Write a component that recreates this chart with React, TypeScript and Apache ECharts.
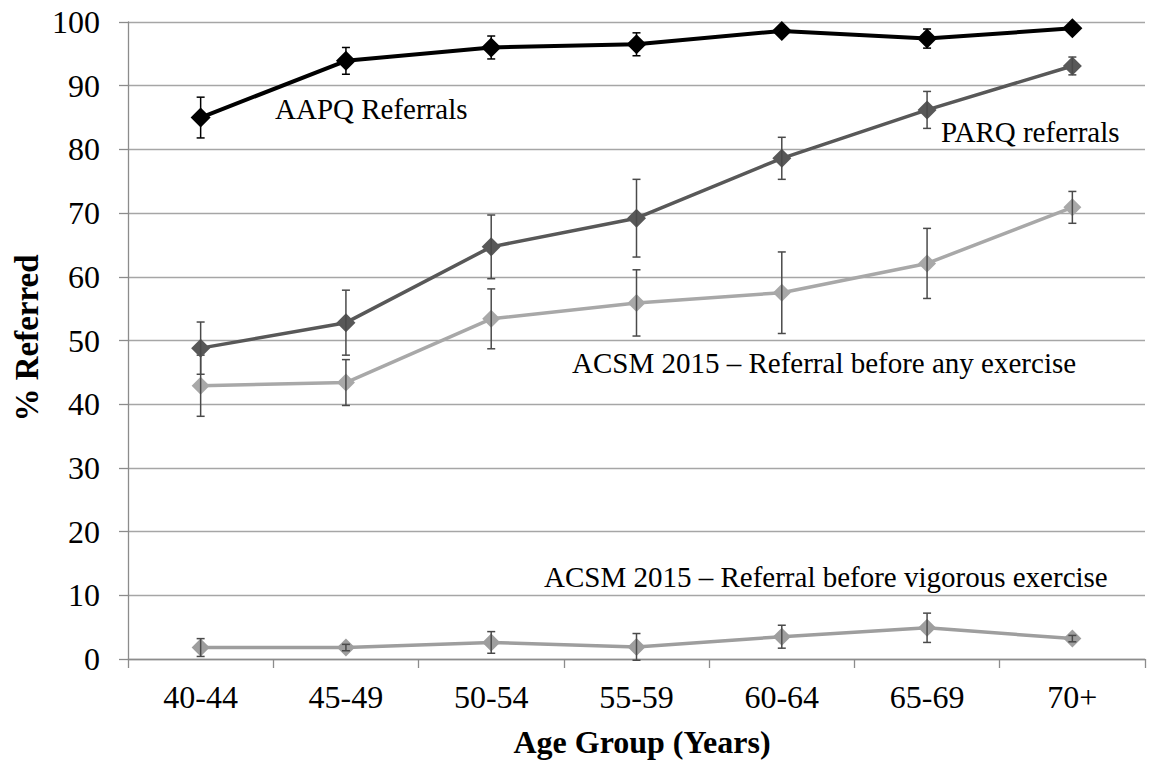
import React, { useEffect, useRef } from "react";
import * as echarts from "echarts";

const categories = ["40-44", "45-49", "50-54", "55-59", "60-64", "65-69", "70+"];
const aapq = [85.0, 93.9, 96.0, 96.5, 98.6, 97.4, 99.0];
const aapqErr = [3.2, 2.1, 1.8, 1.8, 0.6, 1.5, 0.5];
const parq = [48.8, 52.8, 64.7, 69.2, 78.6, 86.2, 93.1];
const parqErr = [4.1, 5.1, 5.0, 6.1, 3.3, 2.9, 1.4];
const acsmAny = [42.9, 43.4, 53.4, 55.9, 57.5, 62.1, 70.9];
const acsmAnyErr = [4.8, 3.6, 4.7, 5.2, 6.4, 5.5, 2.5];
const acsmVig = [1.8, 1.8, 2.6, 1.9, 3.5, 4.9, 3.2];
const acsmVigErr = [1.4, 0.5, 1.7, 2.1, 1.8, 2.3, 0.5];
const yTicks = [0, 10, 20, 30, 40, 50, 60, 70, 80, 90, 100];

const FONT = '"Liberation Serif", "Times New Roman", serif';

function errData(vals: number[], errs: number[]) {
  return vals.map((v, i) => [i, v - errs[i], v + errs[i]]);
}

function errSeries(vals: number[], errs: number[], color: string, z: number) {
  return {
    type: "custom",
    z,
    silent: true,
    data: errData(vals, errs),
    encode: { x: 0, y: [1, 2] },
    renderItem: (params: any, api: any) => {
      const x = api.value(0);
      const lo = api.coord([x, api.value(1)]);
      const hi = api.coord([x, api.value(2)]);
      const hw = 4;
      const st = { stroke: color, lineWidth: 1.5 };
      return {
        type: "group",
        children: [
          { type: "line", shape: { x1: lo[0], y1: lo[1], x2: hi[0], y2: hi[1] }, style: st },
          { type: "line", shape: { x1: lo[0] - hw, y1: lo[1], x2: lo[0] + hw, y2: lo[1] }, style: st },
          { type: "line", shape: { x1: hi[0] - hw, y1: hi[1], x2: hi[0] + hw, y2: hi[1] }, style: st },
        ],
      };
    },
  };
}

function lineSeries(name: string, vals: number[], color: string, width: number, size: number, z: number) {
  return {
    type: "line",
    name,
    z,
    data: vals,
    symbol: "diamond",
    symbolSize: size,
    itemStyle: { color },
    lineStyle: { color, width },
  };
}

export default function App() {
  const ref = useRef<HTMLDivElement>(null);
  useEffect(() => {
    document.body.style.margin = "0";
    const chart = echarts.init(ref.current!, null, { renderer: "svg" });
    chart.setOption({
      animation: false,
      backgroundColor: "#ffffff",
      textStyle: { fontFamily: FONT },
      grid: { left: 128, right: 17, top: 22, bottom: 105, containLabel: false },
      xAxis: {
        type: "category",
        data: categories,
        boundaryGap: true,
        axisLine: { show: true, lineStyle: { color: "#8c8c8c", width: 1.3 } },
        axisTick: { show: true, length: 9, inside: false, lineStyle: { color: "#8c8c8c", width: 1.3 } },
        axisLabel: { color: "#000", fontSize: 32, fontFamily: FONT, margin: 22 },
        splitLine: { show: false },
      },
      yAxis: {
        type: "value",
        min: yTicks[0],
        max: yTicks[yTicks.length - 1],
        interval: 10,
        axisLine: { show: true, lineStyle: { color: "#8c8c8c", width: 1.3 } },
        axisTick: { show: true, length: 9, inside: false, lineStyle: { color: "#8c8c8c", width: 1.3 } },
        axisLabel: { color: "#000", fontSize: 32, fontFamily: FONT, margin: 28 },
        splitLine: { show: true, lineStyle: { color: "#a6a6a6", width: 1.3 } },
      },
      graphic: [
        {
          type: "text",
          x: 27,
          y: 338,
          rotation: Math.PI / 2,
          style: { text: "% Referred", font: `bold 33px ${FONT}`, fill: "#000", align: "center", verticalAlign: "middle" },
        },
        {
          type: "text",
          x: 642,
          y: 742,
          style: { text: "Age Group (Years)", font: `bold 32px ${FONT}`, fill: "#000", align: "center", verticalAlign: "middle" },
        },
        {
          type: "text",
          x: 275,
          y: 109,
          style: { text: "AAPQ Referrals", font: `29px ${FONT}`, fill: "#000", align: "left", verticalAlign: "middle" },
        },
        {
          type: "text",
          x: 941,
          y: 132,
          style: { text: "PARQ referrals", font: `29px ${FONT}`, fill: "#000", align: "left", verticalAlign: "middle" },
        },
        {
          type: "text",
          x: 572,
          y: 363,
          style: { text: "ACSM 2015 – Referral before any exercise", font: `29px ${FONT}`, fill: "#000", align: "left", verticalAlign: "middle" },
        },
        {
          type: "text",
          x: 544,
          y: 577,
          style: { text: "ACSM 2015 – Referral before vigorous exercise", font: `29px ${FONT}`, fill: "#000", align: "left", verticalAlign: "middle" },
        },
      ],
      series: [
        lineSeries("ACSM 2015 – Referral before vigorous exercise", acsmVig, "#9e9e9e", 3.5, 18, 2),
        errSeries(acsmVig, acsmVigErr, "#4a4a4a", 3),
        lineSeries("ACSM 2015 – Referral before any exercise", acsmAny, "#a8a8a8", 3.5, 18, 4),
        errSeries(acsmAny, acsmAnyErr, "#4a4a4a", 5),
        lineSeries("PARQ referrals", parq, "#585858", 3.5, 19, 6),
        errSeries(parq, parqErr, "#4a4a4a", 7),
        lineSeries("AAPQ Referrals", aapq, "#000000", 4, 20, 8),
        errSeries(aapq, aapqErr, "#000000", 9),
      ],
    });
    return () => chart.dispose();
  }, []);
  return <div ref={ref} style={{ width: 1162, height: 764 }} />;
}
